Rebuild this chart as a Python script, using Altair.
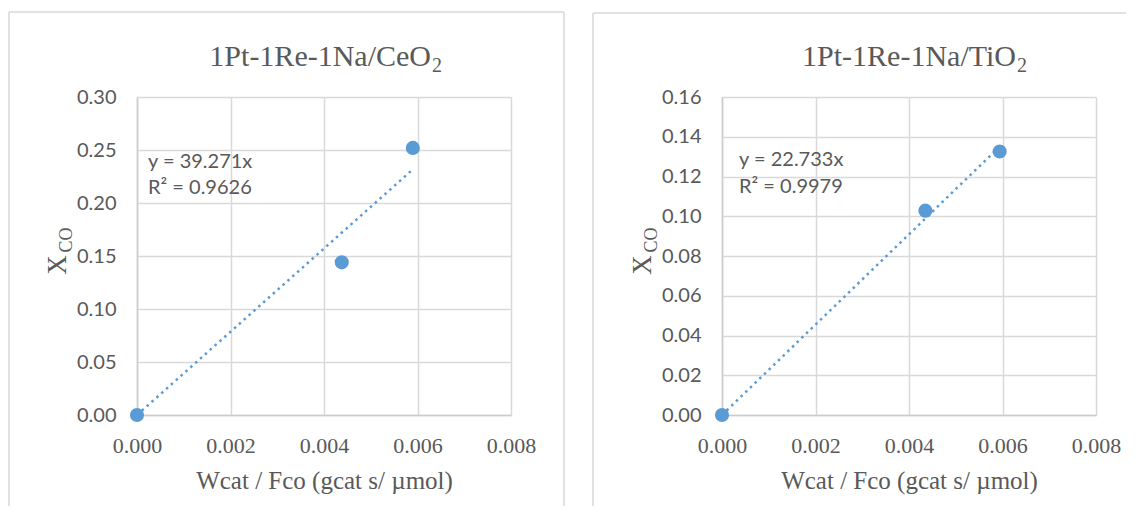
import altair as alt
import pandas as pd

# ---------------- data ----------------
panel_titles = ["1Pt-1Re-1Na/CeO", "1Pt-1Re-1Na/TiO"]
title_subscript = "2"

ce_x = [0.0, 0.00438, 0.00590]
ce_y = [0.0, 0.144, 0.252]
ti_x = [0.0, 0.00435, 0.00594]
ti_y = [0.0, 0.1028, 0.1326]

slopes = [39.271, 22.733]
eq_lines = [["y = 39.271x", "R² = 0.9626"], ["y = 22.733x", "R² = 0.9979"]]
eq_anchor_x = [0.000235, 0.000364]
eq_anchor_y = [[0.2330, 0.2085], [0.1253, 0.1115]]

x_ticks = [0.0, 0.002, 0.004, 0.006, 0.008]
ce_y_ticks = [0.0, 0.05, 0.10, 0.15, 0.20, 0.25, 0.30]
ti_y_ticks = [0.0, 0.02, 0.04, 0.06, 0.08, 0.10, 0.12, 0.14, 0.16]
y_max = [0.30, 0.16]

x_title = "Wcat / Fco (gcat s/ µmol)"
y_title_main = "X"
y_title_sub = "CO"

W, H = 374, 318
BLUE = "#5b9bd5"
GREY_TXT = "#595959"
GRID = "#d9d9d9"
SERIF = "Liberation Serif"
SANS = "Lato"


def panel(xs, ys, slope, eqs, eq_x, eq_ys, ymax, yticks, title_main, left_off, top_off, right_line):
    pts = pd.DataFrame({"x": xs, "y": ys})
    xmax = max(xs)
    trend = pd.DataFrame({"x": [0.0, xmax], "y": [0.0, slope * xmax]})
    eq = pd.DataFrame({"x": [eq_x, eq_x], "y": eq_ys, "t": eqs})

    xs_ = alt.Scale(domain=[0, 0.008], nice=False, zero=True)
    ys_ = alt.Scale(domain=[0, ymax], nice=False, zero=True)

    x_axis = alt.Axis(values=x_ticks, format=".3f", title=x_title,
                      labelFont=SERIF, labelFontSize=22, labelColor=GREY_TXT,
                      labelBaseline="alphabetic", labelPadding=37,
                      labelFlush=False, labelOverlap=False,
                      ticks=False, tickSize=0, domainColor="#cccccc", domainWidth=1.5,
                      gridColor=GRID, gridWidth=1.5,
                      titleFont=SERIF, titleFontSize=25, titleFontWeight="normal",
                      titleColor=GREY_TXT, titleBaseline="alphabetic", titleY=73)
    y_axis = alt.Axis(values=yticks, format=".2f", title=None,
                      labelFont=SANS, labelFontSize=20, labelColor=GREY_TXT,
                      labelPadding=21, labelFlush=False, labelOverlap=False,
                      labelSeparation=0, labelBound=False,
                      ticks=False, tickSize=0,
                      domainColor="#cccccc", domainWidth=1.5,
                      gridColor=GRID, gridWidth=1.5)

    line = alt.Chart(trend).mark_line(color=BLUE, strokeWidth=2.5, strokeDash=[2.5, 4]).encode(
        x=alt.X("x:Q", scale=xs_, axis=x_axis),
        y=alt.Y("y:Q", scale=ys_, axis=y_axis),
    )
    dots = alt.Chart(pts).mark_circle(color=BLUE, size=200, opacity=1).encode(
        x=alt.X("x:Q", scale=xs_, axis=x_axis), y=alt.Y("y:Q", scale=ys_, axis=y_axis))
    eq_text = alt.Chart(eq).mark_text(align="left", baseline="alphabetic", font=SANS,
                                      fontSize=20, color=GREY_TXT).encode(
        x=alt.X("x:Q", scale=xs_, axis=x_axis), y=alt.Y("y:Q", scale=ys_, axis=y_axis), text="t:N")

    one = alt.Data(values=[{"k": 1}])
    t_main = alt.Chart(one).mark_text(align="right", baseline="alphabetic", font=SERIF,
                                      fontSize=30, color=GREY_TXT, text=title_main).encode(
        x=alt.value(294), y=alt.value(-31))
    t_sub = alt.Chart(one).mark_text(align="left", baseline="alphabetic", font=SERIF,
                                     fontSize=20, color=GREY_TXT, text=title_subscript).encode(
        x=alt.value(295), y=alt.value(-25))
    yt_main = alt.Chart(one).mark_text(align="center", baseline="alphabetic", font=SERIF,
                                       fontSize=27, angle=270, color=GREY_TXT, text=y_title_main).encode(
        x=alt.value(-71), y=alt.value(168))
    yt_sub = alt.Chart(one).mark_text(align="center", baseline="alphabetic", font=SERIF,
                                      fontSize=18, angle=270, color=GREY_TXT, text=y_title_sub).encode(
        x=alt.value(-65), y=alt.value(143))

    rules = [
        alt.Chart(one).mark_rule(color=GRID, strokeWidth=1.5).encode(
            x=alt.value(left_off), y=alt.value(top_off), y2=alt.value(409)),
        alt.Chart(one).mark_rule(color=GRID, strokeWidth=1.5).encode(
            x=alt.value(left_off), x2=alt.value(right_line[0]), y=alt.value(top_off)),
    ]
    if right_line[1]:
        rules.append(alt.Chart(one).mark_rule(color=GRID, strokeWidth=1.5).encode(
            x=alt.value(right_line[0]), y=alt.value(top_off), y2=alt.value(409)))

    return alt.layer(*rules, line, dots, eq_text, t_main, t_sub, yt_main, yt_sub).properties(
        width=W, height=H)


left = panel(ce_x, ce_y, slopes[0], eq_lines[0], eq_anchor_x[0], eq_anchor_y[0], y_max[0],
             ce_y_ticks, panel_titles[0], -128, -85, (427, True))
right = panel(ti_x, ti_y, slopes[1], eq_lines[1], eq_anchor_x[1], eq_anchor_y[1], y_max[1],
              ti_y_ticks, panel_titles[1], -129, -84, (404, False))

chart = alt.hconcat(left, right, spacing=211, bounds="flush").properties(
    padding={"left": 0, "top": 3, "right": 0, "bottom": 0},
    background="white",
).configure_view(stroke=None).configure_axis(labelOverlap=False, labelSeparation=0)

chart.save("out.html", embed_options={"renderer": "svg", "actions": False})
